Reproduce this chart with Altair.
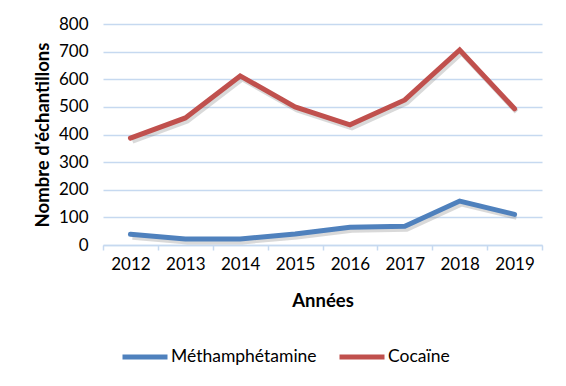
import altair as alt
import pandas as pd

years = ["2012", "2013", "2014", "2015", "2016", "2017", "2018", "2019"]
methamphetamine = [39, 22, 22, 40, 64, 68, 159, 111]
cocaine = [387, 460, 612, 500, 435, 525, 706, 493]
series_names = ["Méthamphétamine", "Cocaïne"]
colors = ["#4F81BD", "#C0504D"]

rows = []
for y, m, c in zip(years, methamphetamine, cocaine):
    rows.append({"Année": y, "Série": series_names[0], "Valeur": m})
    rows.append({"Année": y, "Série": series_names[1], "Valeur": c})
df = pd.DataFrame(rows)

FONT = "Lato"
GRID = "#C6D9F0"

x_enc = alt.X(
    "Année:N",
    sort=years,
    scale=alt.Scale(paddingInner=0, paddingOuter=0),
    axis=alt.Axis(
        title="Années",
        titleFont=FONT, titleFontSize=18.5, titleFontWeight="bold", titleColor="#000000",
        titleY=55, titleBaseline="middle",
        labelFont=FONT, labelFontSize=17, labelColor="#000000", labelAngle=0,
        labelBaseline="middle", labelPadding=14,
        domainColor=GRID, domainWidth=1.5, tickColor=GRID, tickWidth=1.5, tickSize=5,
        tickBand="extent", grid=False,
    ),
)
y_enc = alt.Y(
    "Valeur:Q",
    scale=alt.Scale(domain=[0, 800], nice=False),
    axis=alt.Axis(
        title="Nombre d'échantillons",
        titleFont=FONT, titleFontSize=18.5, titleFontWeight="bold", titleColor="#000000",
        titleX=-61, titleY=110.5, titleAngle=-90, titleAlign="center", titleBaseline="middle",
        labelFont=FONT, labelFontSize=17, labelColor="#000000", labelPadding=15,
        values=[0, 100, 200, 300, 400, 500, 600, 700, 800],
        domain=False, ticks=False, grid=True, gridColor=GRID, gridWidth=1.5,
    ),
)

shadow = alt.Chart(df).mark_line(
    strokeWidth=5, color="#808080", opacity=0.3, xOffset=2, yOffset=3
).encode(x=x_enc, y=y_enc, detail="Série:N")

lines = alt.Chart(df).mark_line(strokeWidth=5, strokeCap="round", strokeJoin="miter").encode(
    x=x_enc,
    y=y_enc,
    color=alt.Color(
        "Série:N",
        scale=alt.Scale(domain=series_names, range=colors),
        legend=alt.Legend(
            title=None, orient="none", direction="horizontal",
            legendX=17, legendY=308,
            symbolType="stroke", symbolSize=2025, symbolStrokeWidth=5,
            labelFont=FONT, labelFontSize=17.5, labelColor="#000000",
            labelOffset=1, columnPadding=12,
        ),
    ),
)

chart = alt.layer(shadow, lines).properties(
    width=439, height=221,
    autosize=alt.AutoSizeParams(type="none"),
    padding={"left": 95, "top": 16, "right": 16, "bottom": 137},
    background="white",
).configure_view(stroke=None)

chart.save("out.html", embed_options={"renderer": "svg", "actions": False})
